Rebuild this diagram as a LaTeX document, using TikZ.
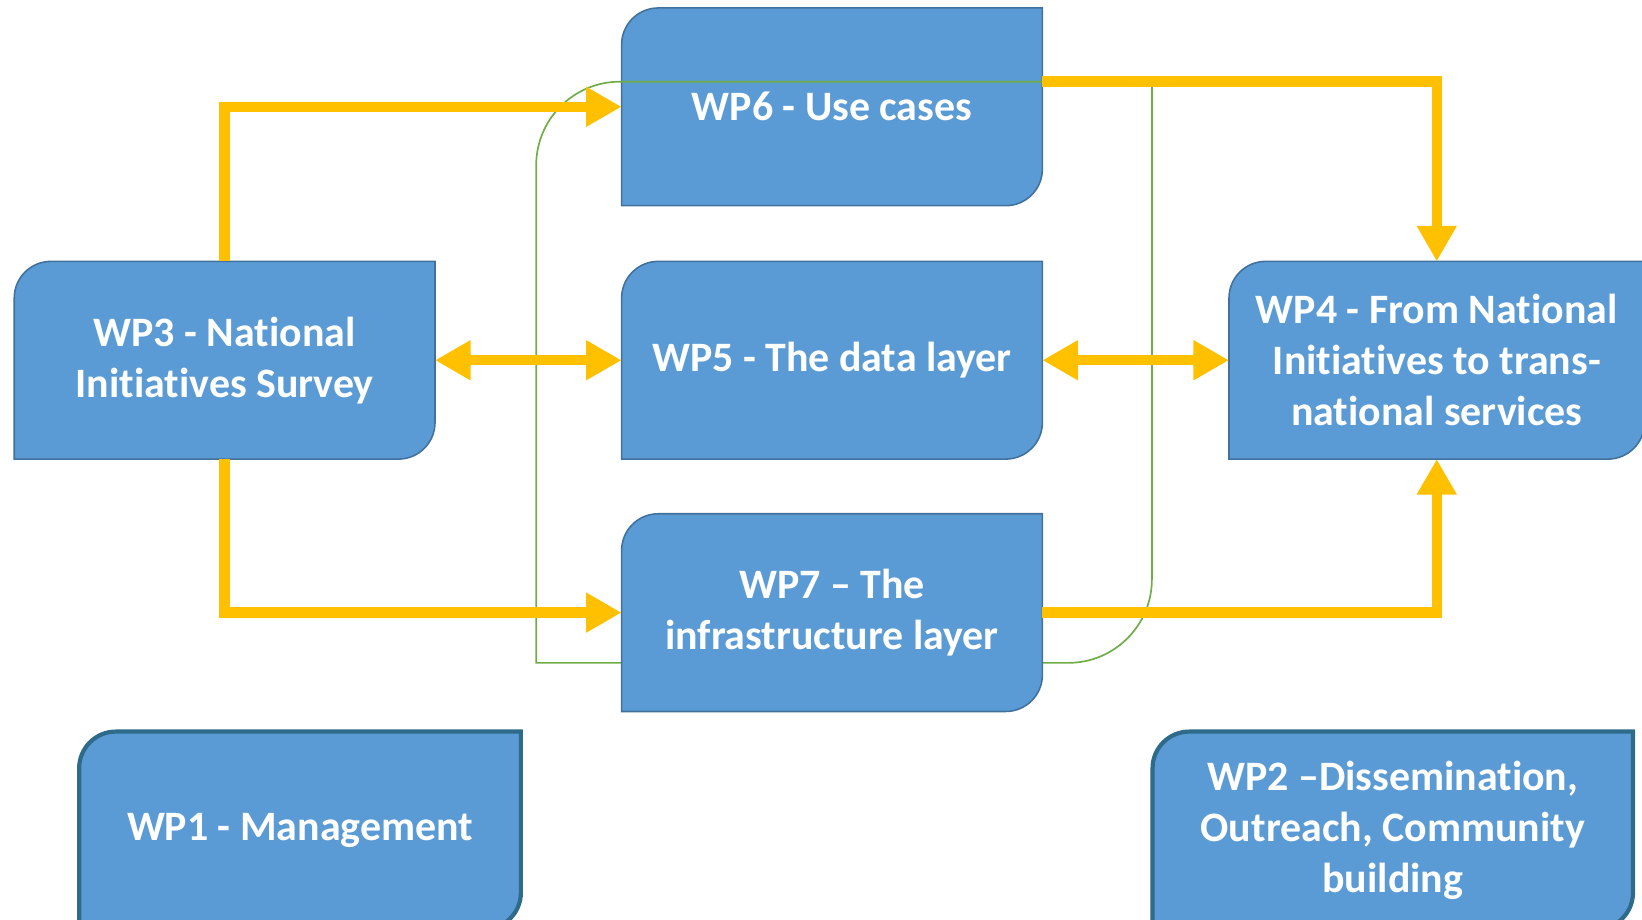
\documentclass[tikz,border=0pt]{standalone}
\usepackage{fontspec}
\setmainfont{Carlito}[Ligatures=NoCommon]
\usetikzlibrary{arrows.meta}
\definecolor{wpblue}{HTML}{5B9BD5}
\definecolor{wpedge}{HTML}{41719C}
\definecolor{wpdark}{RGB}{46,106,138}
\definecolor{arrowyellow}{HTML}{FFC000}
\definecolor{loopgreen}{HTML}{70AD47}
\pgfdeclarelayer{shapesA}\pgfdeclarelayer{loop}\pgfdeclarelayer{shapesB}
\pgfsetlayers{shapesA,loop,shapesB,main}
\newcommand\wpshape[3]{%
 \begin{pgfonlayer}{#1}
 \path[#3] (#2.south west) -- ([yshift=-17.5pt]#2.north west) arc[start angle=180,end angle=90,radius=17.5pt] -- (#2.north east) -- ([yshift=17.5pt]#2.south east) arc[start angle=0,end angle=-90,radius=17.5pt] -- cycle;
 \end{pgfonlayer}}
\tikzset{
 wp/.style={inner sep=0pt, minimum height=94pt, align=center, text=white, font=\bfseries\fontsize{20}{24.3}\selectfont},
 thinbox/.style={fill=wpblue, draw=wpedge, line width=0.75pt},
 thickbox/.style={fill=wpblue, draw=wpdark, line width=2pt},
 loopline/.style={draw=loopgreen, line width=0.8pt},
 yarrow/.style={draw=arrowyellow, line width=5pt, line join=miter, -{Triangle[length=17pt,width=18pt]}},
 ydouble/.style={draw=arrowyellow, line width=5pt, {Triangle[length=17pt,width=18pt]}-{Triangle[length=17pt,width=18pt]}}
}
\begin{document}
\begin{tikzpicture}[x=0.5pt,y=-0.5pt]
\useasboundingbox (0,0) rectangle (1568,878.5);
\node[wp, minimum width=200.5pt] (wp6) at (794.5,102) {WP6 - Use cases};
\node[wp, minimum width=200.5pt] (wp5) at (794.5,344) {WP5 - The data layer};
\node[wp, minimum width=200.5pt] (wp7) at (794.5,585) {WP7 – The\\infrastructure layer};
\node[wp, minimum width=200.5pt] (wp3) at (214.5,344) {WP3 - National\\Initiatives Survey};
\node[wp, minimum width=198pt] (wp4) at (1372,344) {WP4 - From National\\Initiatives to trans-\\national services};
\node[wp, minimum width=210.5pt] (wp1) at (286.5,793) {WP1 - Management};
\node[wp, minimum width=229pt] (wp2) at (1330,793) {WP2 –Dissemination,\\Outreach, Community\\building};
\wpshape{shapesA}{wp6}{thinbox}
\wpshape{shapesB}{wp5}{thinbox}
\wpshape{shapesB}{wp7}{thinbox}
\wpshape{shapesB}{wp3}{thinbox}
\wpshape{shapesB}{wp4}{thinbox}
\wpshape{shapesB}{wp1}{thickbox}
\wpshape{shapesB}{wp2}{thickbox}
\begin{pgfonlayer}{loop}
\draw[loopline] (512,633) -- (512,158) arc[start angle=180,end angle=90,radius=40pt] -- (1100,78) -- (1100,553) arc[start angle=0,end angle=-90,radius=40pt] -- cycle;
\end{pgfonlayer}
\draw[yarrow] (wp3.north) |- (wp6.west);
\draw[yarrow] (wp3.south) |- (wp7.west);
\draw[yarrow] ([yshift=12pt]wp6.east) -| (wp4.north);
\draw[yarrow] (wp7.east) -| (wp4.south);
\draw[ydouble] (wp3.east) -- (wp5.west);
\draw[ydouble] (wp5.east) -- (wp4.west);
\end{tikzpicture}
\end{document}
